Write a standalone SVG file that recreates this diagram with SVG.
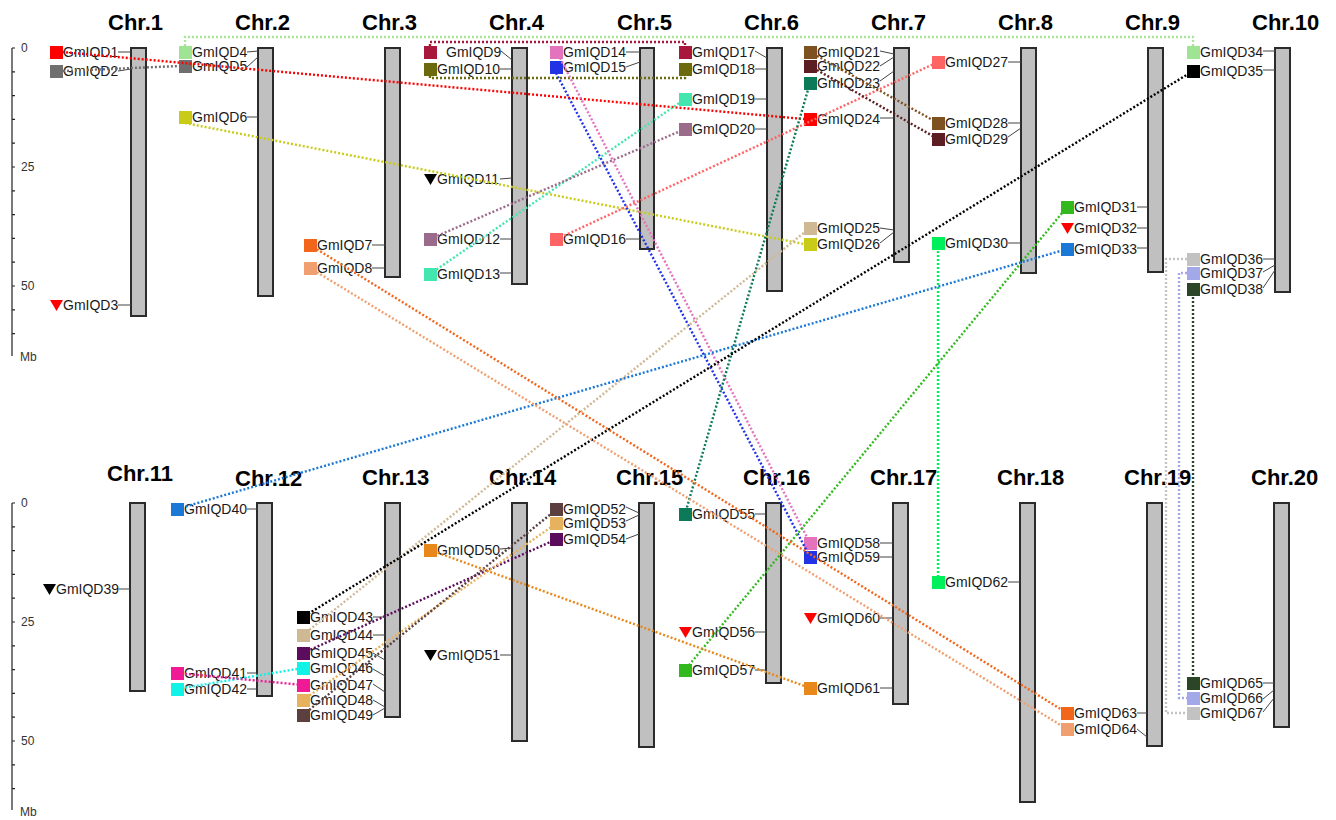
<svg xmlns="http://www.w3.org/2000/svg" width="1336" height="820" viewBox="0 0 1336 820">
<style>
.bg{fill:#fff}
.chr{fill:#c0c0c0;stroke:#2b2b2b;stroke-width:2}
.cl{font-family:"Liberation Sans",Arial,sans-serif;font-weight:bold;font-size:22px;fill:#000}
.t{font-family:"Liberation Sans",Arial,sans-serif;font-size:14px;fill:#1a1a1a}
.ax{font-family:"Liberation Sans",Arial,sans-serif;font-size:12px;fill:#333}
.k{stroke:#444;stroke-width:1;fill:none}
.axl{stroke:#222;stroke-width:1.2;fill:none}
.c{fill:none;stroke-width:2.4;stroke-dasharray:2 2}
.red{fill:#ff0000}.gray{fill:#6f6f6f}.lgr{fill:#9fe394}.yg{fill:#c8cc18}.ored{fill:#f2661c}.sal{fill:#f0a070}
.crim{fill:#a8183c}.oli{fill:#6b6b0e}.aqua{fill:#44e6b0}.mauv{fill:#9b6b8b}.pink{fill:#e473bd}.blu{fill:#2233e6}
.lred{fill:#ff6464}.brn{fill:#7d5120}.mar{fill:#5c1e22}.teal{fill:#0a7a58}.tan{fill:#cfb894}.bgr{fill:#00f05c}
.grn{fill:#32b91e}.blu2{fill:#1a78d6}.blk{fill:#000}.lgy{fill:#c2c2c2}.lav{fill:#a2a8e8}.dgr{fill:#2b4627}
.cyan{fill:#12f2e6}.mag{fill:#f01a96}.pur{fill:#5c0c5c}.lor{fill:#e6b25e}.dbr{fill:#5c4040}.org{fill:#e8881a}
</style>
<rect class="bg" x="0" y="0" width="1336" height="820"/>

<g id="axis-top">
<path class="axl" d="M12,48V356M12,48h3M12,71.8h3M12,95.6h3M12,119.4h3M12,143.2h3M12,167h3M12,190.8h3M12,214.6h3M12,238.4h3M12,262.2h3M12,286h3M12,309.8h3M12,333.6h3"/>
<text class="ax" x="21" y="52">0</text>
<text class="ax" x="21" y="171">25</text>
<text class="ax" x="21" y="290">50</text>
<text class="ax" x="20" y="361">Mb</text>
</g>
<g id="axis-bottom">
<path class="axl" d="M12,503V810M12,503h3M12,526.8h3M12,550.6h3M12,574.4h3M12,598.2h3M12,622h3M12,645.8h3M12,669.6h3M12,693.4h3M12,717.2h3M12,741h3M12,764.8h3M12,788.6h3"/>
<text class="ax" x="21" y="507">0</text>
<text class="ax" x="21" y="626">25</text>
<text class="ax" x="21" y="745">50</text>
<text class="ax" x="20" y="816">Mb</text>
</g>

<g id="Chr1"><text class="cl" x="108" y="30">Chr.1</text><rect class="chr" x="131" y="48" width="15" height="268"/></g>
<g id="Chr2"><text class="cl" x="235" y="30">Chr.2</text><rect class="chr" x="258" y="48" width="15" height="248"/></g>
<g id="Chr3"><text class="cl" x="362" y="30">Chr.3</text><rect class="chr" x="385" y="48" width="15" height="229"/></g>
<g id="Chr4"><text class="cl" x="489" y="30">Chr.4</text><rect class="chr" x="512" y="48" width="15" height="236"/></g>
<g id="Chr5"><text class="cl" x="617" y="30">Chr.5</text><rect class="chr" x="640" y="48" width="14" height="201"/></g>
<g id="Chr6"><text class="cl" x="744" y="30">Chr.6</text><rect class="chr" x="767" y="48" width="15" height="243"/></g>
<g id="Chr7"><text class="cl" x="871" y="30">Chr.7</text><rect class="chr" x="894" y="48" width="15" height="214"/></g>
<g id="Chr8"><text class="cl" x="998" y="30">Chr.8</text><rect class="chr" x="1021" y="48" width="15" height="225"/></g>
<g id="Chr9"><text class="cl" x="1125" y="30">Chr.9</text><rect class="chr" x="1148" y="48" width="15" height="224"/></g>
<g id="Chr10"><text class="cl" x="1252" y="30">Chr.10</text><rect class="chr" x="1275" y="48" width="15" height="244"/></g>
<g id="Chr11"><text class="cl" x="107" y="481">Chr.11</text><rect class="chr" x="130" y="503" width="15" height="188"/></g>
<g id="Chr12"><text class="cl" x="235" y="486">Chr.12</text><rect class="chr" x="257" y="503" width="15" height="193"/></g>
<g id="Chr13"><text class="cl" x="362" y="485">Chr.13</text><rect class="chr" x="385" y="503" width="15" height="214"/></g>
<g id="Chr14"><text class="cl" x="489" y="485">Chr.14</text><rect class="chr" x="512" y="503" width="15" height="238"/></g>
<g id="Chr15"><text class="cl" x="616" y="485">Chr.15</text><rect class="chr" x="639" y="503" width="15" height="244"/></g>
<g id="Chr16"><text class="cl" x="743" y="485">Chr.16</text><rect class="chr" x="766" y="503" width="15" height="180"/></g>
<g id="Chr17"><text class="cl" x="870" y="485">Chr.17</text><rect class="chr" x="893" y="503" width="15" height="201"/></g>
<g id="Chr18"><text class="cl" x="997" y="485">Chr.18</text><rect class="chr" x="1020" y="503" width="15" height="299"/></g>
<g id="Chr19"><text class="cl" x="1124" y="485">Chr.19</text><rect class="chr" x="1147" y="503" width="15" height="243"/></g>
<g id="Chr20"><text class="cl" x="1251" y="485">Chr.20</text><rect class="chr" x="1274" y="503" width="15" height="224"/></g>

<g id="GmIQD1"><rect class="red" x="50" y="46" width="13" height="13"/><text class="t" x="63" y="57">GmIQD1</text><path class="k" d="M118,52L131,52"/></g>
<g id="GmIQD2"><rect class="gray" x="50" y="65" width="13" height="13"/><text class="t" x="63" y="76">GmIQD2</text><path class="k" d="M118,71L131,69"/></g>
<g id="GmIQD3"><path class="red" d="M50,300h13l-6.5,11z"/><text class="t" x="63" y="310">GmIQD3</text><path class="k" d="M118,305L131,305"/></g>
<g id="GmIQD4"><rect class="lgr" x="179" y="46" width="13" height="13"/><text class="t" x="192" y="57">GmIQD4</text><path class="k" d="M247,52L258,51"/></g>
<g id="GmIQD5"><rect class="gray" x="179" y="60" width="13" height="13"/><text class="t" x="192" y="71">GmIQD5</text><path class="k" d="M247,67L258,57"/></g>
<g id="GmIQD6"><rect class="yg" x="179" y="111" width="13" height="13"/><text class="t" x="192" y="122">GmIQD6</text><path class="k" d="M247,117L258,117"/></g>
<g id="GmIQD7"><rect class="ored" x="304" y="239" width="13" height="13"/><text class="t" x="317" y="250">GmIQD7</text><path class="k" d="M372,245L385,245"/></g>
<g id="GmIQD8"><rect class="sal" x="304" y="262" width="13" height="13"/><text class="t" x="317" y="273">GmIQD8</text><path class="k" d="M372,268L385,268"/></g>
<g id="GmIQD9"><rect class="crim" x="424" y="46" width="13" height="13"/><text class="t" x="446" y="57">GmIQD9</text><path class="k" d="M501,51L512,60"/></g>
<g id="GmIQD10"><rect class="oli" x="424" y="63" width="13" height="13"/><text class="t" x="437" y="74">GmIQD10</text><path class="k" d="M500,69L512,69"/></g>
<g id="GmIQD11"><path class="blk" d="M424,174h13l-6.5,11z"/><text class="t" x="437" y="184">GmIQD11</text><path class="k" d="M500,179L512,178"/></g>
<g id="GmIQD12"><rect class="mauv" x="424" y="233" width="13" height="13"/><text class="t" x="437" y="244">GmIQD12</text><path class="k" d="M500,239L512,239"/></g>
<g id="GmIQD13"><rect class="aqua" x="424" y="268" width="13" height="13"/><text class="t" x="437" y="279">GmIQD13</text><path class="k" d="M500,273L512,273"/></g>
<g id="GmIQD14"><rect class="pink" x="550" y="46" width="13" height="13"/><text class="t" x="563" y="57">GmIQD14</text><path class="k" d="M626,52L640,52"/></g>
<g id="GmIQD15"><rect class="blu" x="550" y="61" width="13" height="13"/><text class="t" x="563" y="72">GmIQD15</text><path class="k" d="M626,67L640,62"/></g>
<g id="GmIQD16"><rect class="lred" x="550" y="233" width="13" height="13"/><text class="t" x="563" y="244">GmIQD16</text><path class="k" d="M626,239L640,239"/></g>
<g id="GmIQD17"><rect class="crim" x="679" y="46" width="13" height="13"/><text class="t" x="692" y="57">GmIQD17</text><path class="k" d="M755,51L767,58"/></g>
<g id="GmIQD18"><rect class="oli" x="679" y="63" width="13" height="13"/><text class="t" x="692" y="74">GmIQD18</text><path class="k" d="M755,69L767,69"/></g>
<g id="GmIQD19"><rect class="aqua" x="679" y="93" width="13" height="13"/><text class="t" x="692" y="104">GmIQD19</text><path class="k" d="M755,99L767,99"/></g>
<g id="GmIQD20"><rect class="mauv" x="679" y="123" width="13" height="13"/><text class="t" x="692" y="134">GmIQD20</text><path class="k" d="M755,129L767,129"/></g>
<g id="GmIQD21"><rect class="brn" x="804" y="46" width="13" height="13"/><text class="t" x="817" y="57">GmIQD21</text><path class="k" d="M880,51L894,54"/></g>
<g id="GmIQD22"><rect class="mar" x="804" y="60" width="13" height="13"/><text class="t" x="817" y="71">GmIQD22</text><path class="k" d="M880,66L894,57"/></g>
<g id="GmIQD23"><rect class="teal" x="804" y="77" width="13" height="13"/><text class="t" x="817" y="88">GmIQD23</text><path class="k" d="M880,81L894,71"/></g>
<g id="GmIQD24"><rect class="red" x="804" y="113" width="13" height="13"/><text class="t" x="817" y="124">GmIQD24</text><path class="k" d="M880,118L894,118"/></g>
<g id="GmIQD25"><rect class="tan" x="804" y="222" width="13" height="13"/><text class="t" x="817" y="233">GmIQD25</text><path class="k" d="M880,228L894,230"/></g>
<g id="GmIQD26"><rect class="yg" x="804" y="238" width="13" height="13"/><text class="t" x="817" y="249">GmIQD26</text><path class="k" d="M880,243L894,232"/></g>
<g id="GmIQD27"><rect class="lred" x="932" y="56" width="13" height="13"/><text class="t" x="945" y="67">GmIQD27</text><path class="k" d="M1008,62L1021,62"/></g>
<g id="GmIQD28"><rect class="brn" x="932" y="117" width="13" height="13"/><text class="t" x="945" y="128">GmIQD28</text><path class="k" d="M1008,123L1021,123"/></g>
<g id="GmIQD29"><rect class="mar" x="932" y="133" width="13" height="13"/><text class="t" x="945" y="144">GmIQD29</text><path class="k" d="M1008,137L1021,128"/></g>
<g id="GmIQD30"><rect class="bgr" x="932" y="237" width="13" height="13"/><text class="t" x="945" y="248">GmIQD30</text><path class="k" d="M1008,243L1021,243"/></g>
<g id="GmIQD31"><rect class="grn" x="1061" y="201" width="13" height="13"/><text class="t" x="1074" y="212">GmIQD31</text><path class="k" d="M1137,207L1148,207"/></g>
<g id="GmIQD32"><path class="red" d="M1061,223h13l-6.5,11z"/><text class="t" x="1074" y="233">GmIQD32</text><path class="k" d="M1137,228L1148,228"/></g>
<g id="GmIQD33"><rect class="blu2" x="1061" y="243" width="13" height="13"/><text class="t" x="1074" y="254">GmIQD33</text><path class="k" d="M1137,248L1148,248"/></g>
<g id="GmIQD34"><rect class="lgr" x="1187" y="46" width="13" height="13"/><text class="t" x="1200" y="57">GmIQD34</text><path class="k" d="M1263,51L1275,51"/></g>
<g id="GmIQD35"><rect class="blk" x="1187" y="65" width="13" height="13"/><text class="t" x="1200" y="76">GmIQD35</text><path class="k" d="M1263,70L1275,70"/></g>
<g id="GmIQD36"><rect class="lgy" x="1187" y="253" width="13" height="13"/><text class="t" x="1200" y="264">GmIQD36</text><path class="k" d="M1263,259L1275,259"/></g>
<g id="GmIQD37"><rect class="lav" x="1187" y="267" width="13" height="13"/><text class="t" x="1200" y="278">GmIQD37</text><path class="k" d="M1263,272L1275,265"/></g>
<g id="GmIQD38"><rect class="dgr" x="1187" y="283" width="13" height="13"/><text class="t" x="1200" y="294">GmIQD38</text><path class="k" d="M1263,288L1275,270"/></g>

<g id="GmIQD39"><path class="blk" d="M43,584h13l-6.5,11z"/><text class="t" x="56" y="594">GmIQD39</text><path class="k" d="M119,589L130,589"/></g>
<g id="GmIQD40"><rect class="blu2" x="171" y="503" width="13" height="13"/><text class="t" x="184" y="514">GmIQD40</text><path class="k" d="M247,509L257,509"/></g>
<g id="GmIQD41"><rect class="mag" x="171" y="667" width="13" height="13"/><text class="t" x="184" y="678">GmIQD41</text><path class="k" d="M247,673L257,673"/></g>
<g id="GmIQD42"><rect class="cyan" x="171" y="683" width="13" height="13"/><text class="t" x="184" y="694">GmIQD42</text><path class="k" d="M247,689L257,689"/></g>
<g id="GmIQD43"><rect class="blk" x="297" y="611" width="13" height="13"/><text class="t" x="310" y="622">GmIQD43</text><path class="k" d="M373,617L385,617"/></g>
<g id="GmIQD44"><rect class="tan" x="297" y="629" width="13" height="13"/><text class="t" x="310" y="640">GmIQD44</text><path class="k" d="M373,635L385,635"/></g>
<g id="GmIQD45"><rect class="pur" x="297" y="647" width="13" height="13"/><text class="t" x="310" y="658">GmIQD45</text><path class="k" d="M373,653L385,660"/></g>
<g id="GmIQD46"><rect class="cyan" x="297" y="662" width="13" height="13"/><text class="t" x="310" y="673">GmIQD46</text><path class="k" d="M373,669L385,676"/></g>
<g id="GmIQD47"><rect class="mag" x="297" y="679" width="13" height="13"/><text class="t" x="310" y="690">GmIQD47</text><path class="k" d="M373,684L385,692"/></g>
<g id="GmIQD48"><rect class="lor" x="297" y="694" width="13" height="13"/><text class="t" x="310" y="705">GmIQD48</text><path class="k" d="M373,700L385,707"/></g>
<g id="GmIQD49"><rect class="dbr" x="297" y="709" width="13" height="13"/><text class="t" x="310" y="720">GmIQD49</text><path class="k" d="M373,715L385,708"/></g>
<g id="GmIQD50"><rect class="org" x="424" y="544" width="13" height="13"/><text class="t" x="437" y="555">GmIQD50</text><path class="k" d="M500,549L512,548"/></g>
<g id="GmIQD51"><path class="blk" d="M424,650h13l-6.5,11z"/><text class="t" x="437" y="660">GmIQD51</text><path class="k" d="M500,655L512,655"/></g>
<g id="GmIQD52"><rect class="dbr" x="550" y="503" width="13" height="13"/><text class="t" x="563" y="514">GmIQD52</text><path class="k" d="M626,507L639,513"/></g>
<g id="GmIQD53"><rect class="lor" x="550" y="517" width="13" height="13"/><text class="t" x="563" y="528">GmIQD53</text><path class="k" d="M626,521L639,515"/></g>
<g id="GmIQD54"><rect class="pur" x="550" y="533" width="13" height="13"/><text class="t" x="563" y="544">GmIQD54</text><path class="k" d="M626,539L639,534"/></g>
<g id="GmIQD55"><rect class="teal" x="679" y="508" width="13" height="13"/><text class="t" x="692" y="519">GmIQD55</text><path class="k" d="M755,514L766,514"/></g>
<g id="GmIQD56"><path class="red" d="M679,627h13l-6.5,11z"/><text class="t" x="692" y="637">GmIQD56</text><path class="k" d="M755,632L766,632"/></g>
<g id="GmIQD57"><rect class="grn" x="679" y="664" width="13" height="13"/><text class="t" x="692" y="675">GmIQD57</text><path class="k" d="M755,670L766,670"/></g>
<g id="GmIQD58"><rect class="pink" x="804" y="537" width="13" height="13"/><text class="t" x="817" y="548">GmIQD58</text><path class="k" d="M880,543L893,543"/></g>
<g id="GmIQD59"><rect class="blu" x="804" y="551" width="13" height="13"/><text class="t" x="817" y="562">GmIQD59</text><path class="k" d="M880,557L893,557"/></g>
<g id="GmIQD60"><path class="red" d="M804,613h13l-6.5,11z"/><text class="t" x="817" y="623">GmIQD60</text><path class="k" d="M880,618L893,618"/></g>
<g id="GmIQD61"><rect class="org" x="804" y="682" width="13" height="13"/><text class="t" x="817" y="693">GmIQD61</text><path class="k" d="M880,688L893,688"/></g>
<g id="GmIQD62"><rect class="bgr" x="932" y="576" width="13" height="13"/><text class="t" x="945" y="587">GmIQD62</text><path class="k" d="M1008,582L1020,582"/></g>
<g id="GmIQD63"><rect class="ored" x="1061" y="707" width="13" height="13"/><text class="t" x="1074" y="718">GmIQD63</text><path class="k" d="M1137,713L1147,713"/></g>
<g id="GmIQD64"><rect class="sal" x="1061" y="723" width="13" height="13"/><text class="t" x="1074" y="734">GmIQD64</text><path class="k" d="M1137,729L1147,737"/></g>
<g id="GmIQD65"><rect class="dgr" x="1187" y="677" width="13" height="13"/><text class="t" x="1200" y="688">GmIQD65</text><path class="k" d="M1263,683L1274,683"/></g>
<g id="GmIQD66"><rect class="lav" x="1187" y="692" width="13" height="13"/><text class="t" x="1200" y="703">GmIQD66</text><path class="k" d="M1263,699L1274,690"/></g>
<g id="GmIQD67"><rect class="lgy" x="1187" y="707" width="13" height="13"/><text class="t" x="1200" y="718">GmIQD67</text><path class="k" d="M1263,712L1274,698"/></g>

<g id="connectors">
<path class="c" stroke="#a6e79c" d="M185,46V37H1193V46"/>
<path class="c" stroke="#a8183c" d="M430,46V42H685V46"/>
<path class="c" stroke="#6b6b0e" d="M430,76V78H685V76"/>
<path class="c" stroke="#ff0000" d="M62,52L804,119"/>
<path class="c" stroke="#6f6f6f" d="M63,71L179,66"/>
<path class="c" stroke="#c8cc18" d="M185,123L804,244"/>
<path class="c" stroke="#44e6b0" d="M430,274L685,99"/>
<path class="c" stroke="#9b6b8b" d="M430,239L685,129"/>
<path class="c" stroke="#e473bd" d="M560,58L810,543"/>
<path class="c" stroke="#2233e6" d="M556,73L810,557"/>
<path class="c" stroke="#ff6464" d="M557,239L938,62"/>
<path class="c" stroke="#7d5120" d="M810,52L938,123"/>
<path class="c" stroke="#5c1e22" d="M810,66L938,139"/>
<path class="c" stroke="#0a7a58" d="M810,83L685,514"/>
<path class="c" stroke="#cfb894" d="M810,228L303,635"/>
<path class="c" stroke="#00f05c" d="M938,243V582"/>
<path class="c" stroke="#32b91e" d="M1067,207L685,670"/>
<path class="c" stroke="#1a78d6" d="M1067,249L177,509"/>
<path class="c" stroke="#000000" d="M1193,71L303,617"/>
<path class="c" stroke="#c2c2c2" d="M1187,259H1166V713H1187"/>
<path class="c" stroke="#a2a8e8" d="M1187,273H1179V698H1187"/>
<path class="c" stroke="#2b4627" d="M1193,289V683"/>
<path class="c" stroke="#f2661c" d="M310,245L1067,713"/>
<path class="c" stroke="#f0a070" d="M310,268L1067,729"/>
<path class="c" stroke="#12f2e6" d="M177,689L303,668"/>
<path class="c" stroke="#f01a96" d="M177,673L303,685"/>
<path class="c" stroke="#5c0c5c" d="M303,653L557,539"/>
<path class="c" stroke="#e6b25e" d="M303,700L557,523"/>
<path class="c" stroke="#5c4040" d="M303,715L557,509"/>
<path class="c" stroke="#e8881a" d="M430,550L810,688"/>
</g>
</svg>
